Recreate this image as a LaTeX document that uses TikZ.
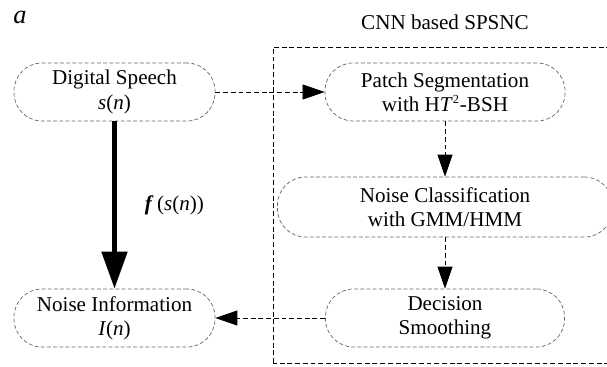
\documentclass[tikz,border=0pt]{standalone}
\usepackage{fontspec}
\setmainfont{Liberation Serif}
\usetikzlibrary{arrows.meta}

\begin{document}
\begin{tikzpicture}[>=Stealth,line join=round,
    stage/.style={draw=black!60,dash pattern=on 2.2pt off 1.3pt,rounded corners=0.56cm,
      minimum height=1.16cm,inner sep=0pt,align=center,font=\fontsize{12}{13.8}\selectfont},
    flow/.style={dash pattern=on 2.8pt off 1.6pt,-{Triangle[length=4.4mm,width=3mm]}},
    heavy/.style={line width=2.8pt,-{Triangle[length=7.4mm,width=5mm]}}]
  \useasboundingbox (0,0) rectangle (12.14,7.32);
  % panel letter and frame of the classifier
  \node (tag) at (0.40,6.98) {\fontsize{15}{17}\selectfont\itshape a};
  \draw[dash pattern=on 2.8pt off 1.6pt] (5.46,0.06) rectangle (12.40,6.38);
  \node[font=\fontsize{12}{14}\selectfont] (title) at (8.90,6.88) {CNN based SPSNC};
  % stages
  \node[stage,minimum width=4.02cm] (speech) at (2.29,5.48) {Digital Speech\\\textit{s}(\textit{n})};
  \node[stage,minimum width=4.80cm] (patch) at (8.90,5.48) {Patch Segmentation\\with H\textit{T}\textsuperscript{\fontsize{7}{7}\selectfont 2}-BSH};
  \node[stage,minimum width=6.70cm,minimum height=1.20cm] (classify) at (8.90,3.18) {Noise Classification\\with GMM/HMM};
  \node[stage,minimum width=4.78cm] (smooth) at (8.90,0.96) {Decision\\Smoothing};
  \node[stage,minimum width=4.02cm] (noise) at (2.29,0.96) {Noise Information\\\textit{I}(\textit{n})};
  % connectors
  \draw[flow] (speech) -- (patch);
  \draw[flow] (patch) -- (classify);
  \draw[flow] (classify) -- (smooth);
  \draw[flow] (smooth) -- (noise);
  \draw[heavy] (speech) -- (noise)
    node[midway,right=4.4mm,font=\fontsize{12}{14}\selectfont] (map) {\textbf{\textit{f}}\,(\textit{s}(\textit{n}))};
\end{tikzpicture}
\end{document}
